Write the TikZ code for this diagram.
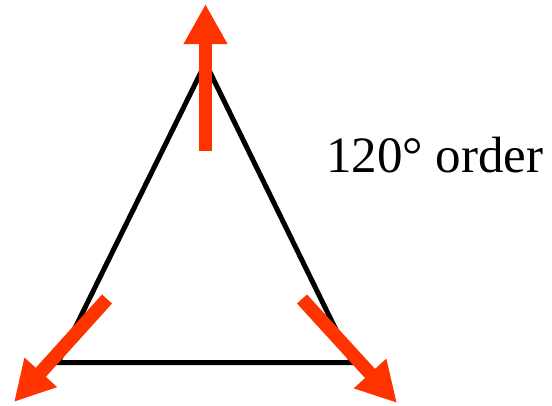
\documentclass[tikz,border=0pt]{standalone}
\usepackage{fontspec}
\setmainfont{Liberation Serif}
\usetikzlibrary{arrows.meta}
\definecolor{spinred}{RGB}{255,51,0}
\tikzset{
  edge/.style={line width=5pt, line join=miter, black},
  spin/.style={line width=13.5pt, spinred, -{Triangle[length=40pt,width=41pt]}},
}
\begin{document}
\begin{tikzpicture}[x=1pt,y=-1pt]
\useasboundingbox (0,0) rectangle (552,405);
\coordinate (A) at (205.5,63);
\coordinate (B) at (58,362.5);
\coordinate (C) at (352,362.5);
\draw[edge] (A) -- (B) -- (C) -- cycle;
\coordinate (tA) at (205.5,151);
\coordinate (hA) at (205.5,4);
\coordinate (tB) at (107,299);
\coordinate (hB) at (14,402);
\coordinate (tC) at (302,299);
\coordinate (hC) at (397,403);
\draw[spin] (tA) -- (hA);
\draw[spin] (tB) -- (hB);
\draw[spin] (tC) -- (hC);
\node[anchor=base west, inner sep=0pt, font=\fontsize{51}{60}\selectfont] (lbl) at (326,172) {120° order};
\end{tikzpicture}
\end{document}
